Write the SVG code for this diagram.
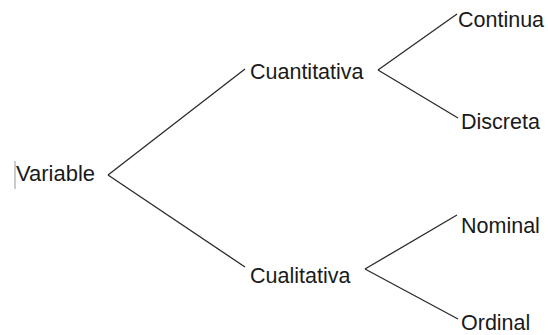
<svg xmlns="http://www.w3.org/2000/svg" width="548" height="335" viewBox="0 0 548 335">
<style>
text{font-family:"Liberation Sans",Arial,sans-serif;font-size:21.5px;fill:#1a1a1a}
.c line{stroke:#2a2a2a;stroke-width:1.3;fill:none}
</style>
<rect width="548" height="335" fill="#fff"/>
<line x1="15" y1="161" x2="15" y2="189" stroke="#999" stroke-width="1"/>
<g class="c" id="connectors">
<line x1="108" y1="175" x2="245" y2="69"/>
<line x1="108" y1="175" x2="245" y2="267"/>
<line x1="378" y1="70" x2="457" y2="14"/>
<line x1="378" y1="70" x2="458" y2="118"/>
<line x1="365" y1="269" x2="457" y2="215"/>
<line x1="365" y1="269" x2="458" y2="319"/>
</g>
<g id="variable"><text x="16" y="181" style="font-size:22px">Variable</text></g>
<g id="cuantitativa"><text x="250" y="79">Cuantitativa</text></g>
<g id="cualitativa"><text x="250" y="283">Cualitativa</text></g>
<g id="continua"><text x="458" y="27">Continua</text></g>
<g id="discreta"><text x="461" y="129">Discreta</text></g>
<g id="nominal"><text x="461" y="233">Nominal</text></g>
<g id="ordinal"><text x="461" y="330">Ordinal</text></g>
</svg>
